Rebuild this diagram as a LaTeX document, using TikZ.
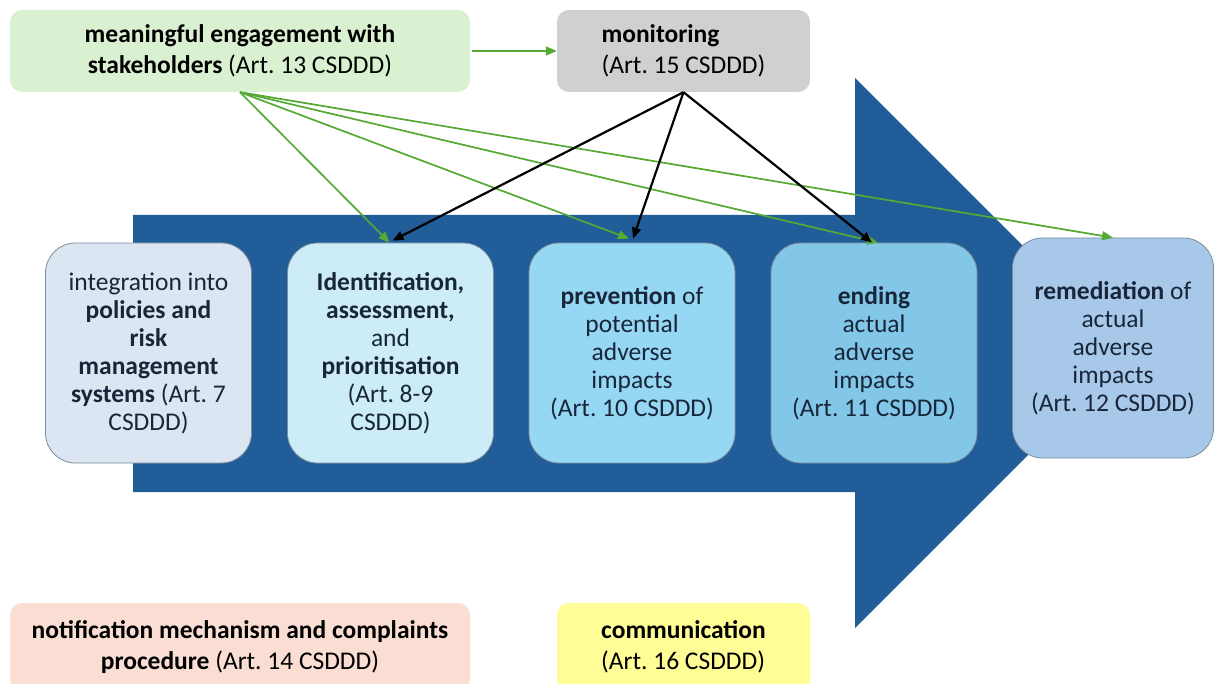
\documentclass[tikz,border=0pt]{standalone}
\usepackage{fontspec}
\setmainfont{Carlito}
\usetikzlibrary{arrows.meta}

\definecolor{flowblue}{RGB}{33,93,152}
\definecolor{linkgreen}{RGB}{84,170,52}
\definecolor{engagefill}{RGB}{218,241,209}
\definecolor{monitorfill}{RGB}{208,208,208}
\definecolor{notifyfill}{RGB}{250,221,211}
\definecolor{commfill}{RGB}{255,253,150}
\definecolor{stageA}{RGB}{220,230,242}
\definecolor{stageB}{RGB}{204,236,248}
\definecolor{stageC}{RGB}{150,215,243}
\definecolor{stageD}{RGB}{131,199,232}
\definecolor{stageE}{RGB}{168,200,234}
\definecolor{stageedge}{RGB}{125,140,155}
\definecolor{stagetext}{RGB}{24,38,58}

\begin{document}
\frenchspacing
\begin{tikzpicture}[x=1pt,y=-1pt,
  topbox/.style={rounded corners=12pt, inner sep=0pt, minimum height=82pt,
    font=\fontsize{25.5}{31}\selectfont, text=black},
  stage/.style={rounded corners=30pt, draw=stageedge, line width=0.8pt,
    minimum width=206pt, minimum height=220pt, inner sep=0pt, align=center,
    font=\fontsize{25.5}{28}\selectfont, text=stagetext},
  greenlink/.style={draw=linkgreen, line width=1.7pt,
    -{Triangle[length=11pt,width=9pt]}},
  blacklink/.style={draw=black, line width=2.2pt,
    -{Triangle[length=11pt,width=9pt]}}]

\useasboundingbox (0,0) rectangle (1214,684);
\clip (0,0) rectangle (1214,684);

% the big process arrow
\fill[flowblue] (133,215) -- (855,215) -- (855,78) -- (1130,353)
  -- (855,628) -- (855,492) -- (133,492) -- cycle;

% cross-cutting duties
\node[topbox, fill=engagefill, minimum width=460pt, align=center] (engage) at (240,51)
  {\textbf{meaningful engagement with}\\\textbf{stakeholders} (Art. 13 CSDDD)};
\node[topbox, fill=monitorfill, minimum width=253pt, align=left] (monitor) at (683.5,51)
  {\textbf{monitoring}\\(Art. 15 CSDDD)};
\node[topbox, fill=notifyfill, minimum width=460pt, minimum height=88pt, align=center] (notify) at (240,647)
  {\textbf{notification mechanism and complaints}\\\textbf{procedure} (Art. 14 CSDDD)};
\node[topbox, fill=commfill, minimum width=253pt, minimum height=88pt, align=left] (comm) at (683.5,647)
  {\textbf{communication}\\(Art. 16 CSDDD)};

% due diligence stages
\node[stage, fill=stageA] (policies) at (148.5,353)
  {integration into\\\textbf{policies and}\\\textbf{risk}\\\textbf{management}\\\textbf{systems} (Art. 7\\CSDDD)};
\node[stage, fill=stageB] (identify) at (390.5,353)
  {\textbf{Identification,}\\\textbf{assessment,}\\and\\\textbf{prioritisation}\\(Art. 8-9\\CSDDD)};
\node[stage, fill=stageC] (prevent) at (632,353)
  {\textbf{prevention} of\\potential\\adverse\\impacts\\(Art. 10 CSDDD)};
\node[stage, fill=stageD] (ending) at (874,353)
  {\textbf{ending}\\actual\\adverse\\impacts\\(Art. 11 CSDDD)};
\node[stage, fill=stageE, minimum width=201pt] (remedy) at (1113,348)
  {\textbf{remediation} of\\actual\\adverse\\impacts\\(Art. 12 CSDDD)};

% stakeholder engagement feeds monitoring and the stages
\draw[greenlink] ([xshift=2pt]engage.east) -- (monitor.west);
\draw[greenlink] (engage.south) -- ([xshift=-1pt]identify.north);
\draw[greenlink] (engage.south) -- ([xshift=-3pt,yshift=4pt]prevent.north);
\draw[greenlink] (engage.south) -- ([xshift=4pt]ending.north);
\draw[greenlink] (engage.south) -- (remedy.north);

% monitoring covers the stages
\draw[blacklink] (monitor.south) -- ([xshift=2pt,yshift=2pt]identify.north);
\draw[blacklink] (monitor.south) -- ([xshift=1pt,yshift=4pt]prevent.north);
\draw[blacklink] (monitor.south) -- ([xshift=-2pt]ending.north);
\end{tikzpicture}
\end{document}
